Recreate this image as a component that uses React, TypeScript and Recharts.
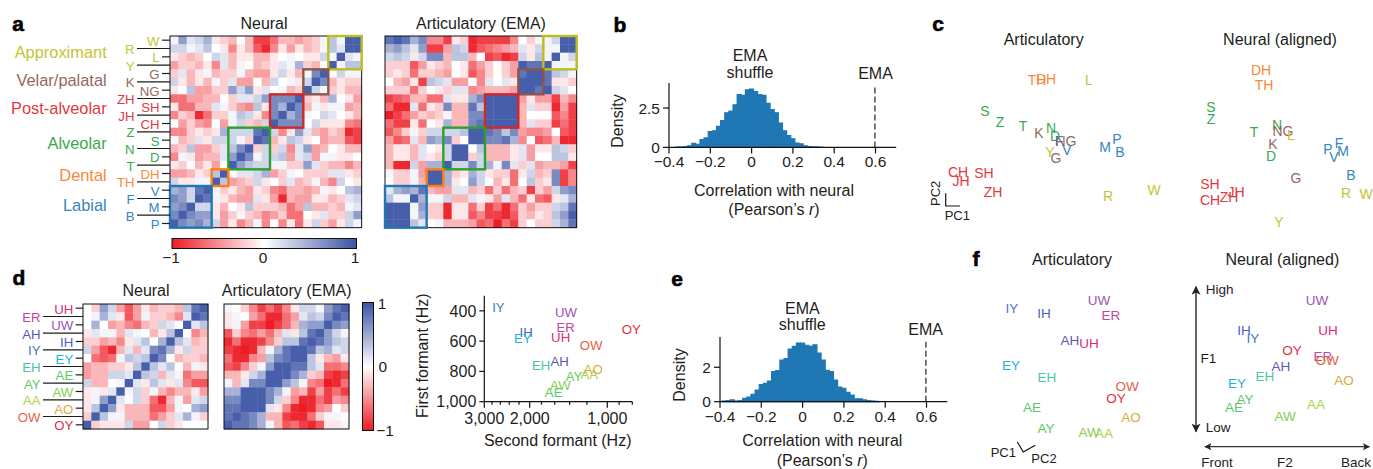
import React from 'react';
import {
  Bar,
  ComposedChart,
  ReferenceLine,
  Scatter,
  ScatterChart,
  XAxis,
  YAxis,
} from 'recharts';

const FONT = '"Liberation Sans", Arial, sans-serif';
const INK = '#1d1d1b';
const BLUE = '#1f77b4';
const CELL = 125 / 15;

// phonemes, top row of the matrix first
const consonants = ['W', 'R', 'L', 'Y', 'G', 'K', 'NG', 'ZH', 'SH', 'JH', 'CH', 'Z', 'S', 'N', 'D', 'T', 'DH', 'TH', 'V', 'F', 'M', 'B', 'P'];
const vowels = ['UH', 'ER', 'UW', 'AH', 'IH', 'IY', 'EY', 'EH', 'AE', 'AY', 'AW', 'AA', 'AO', 'OW', 'OY'];

const groupNames = ['Approximant', 'Velar/palatal', 'Post-alveolar', 'Alveolar', 'Dental', 'Labial'];
const groupSizes = [4, 3, 4, 5, 2, 5];
const groupBoxColors = ['#bcbd22', '#8c564b', '#d62728', '#2ca02c', '#ff7f0e', '#1f77b4'];
const groupTextColors = ['#c4c436', '#96675c', '#e0393e', '#3aa84f', '#f8893a', '#3585c0'];

const vowelColors = ['#da2a78', '#c445a0', '#9a55b5', '#5e55b5', '#4a62bf', '#4a78c4', '#22b2d8', '#48c6a2', '#5cc76e', '#62c95e', '#84ce52', '#acd245', '#d9aa3c', '#e2633f', '#e12d40'];

// correlation x 10, rows from the top, left edge up to the anti-diagonal (the matrices are symmetric)
const neuralConsonants = [
  [1, 6, 2, 3, 5, -1, -2, -3, 0, -3, -8, -8, -6, -3, -3, -4, -3, -2, 1, 4, 1, 9, 9],
  [3, 3, 1, 2, 4, 0, -1, -5, -1, -3, -7, -9, -5, -1, -4, -1, -3, -2, 1, 4, 2, 9],
  [-1, -2, -3, -2, 0, 3, 2, -3, -1, -1, -3, -3, -1, 0, 1, 0, -1, -1, 3, 1, 9],
  [-4, -2, -2, -3, -1, -5, 2, -3, 1, 0, -3, -2, -1, 2, 1, 5, -2, -3, 0, 9],
  [-2, 2, -3, -1, 1, -3, -2, -2, 1, -3, -4, -4, -1, 3, -1, -3, 1, 7, 9],
  [3, -1, -3, -1, -3, 1, -2, 2, -4, -4, 0, -3, 3, 0, 1, -1, 3, 9],
  [-1, 0, 4, -4, -4, -2, -2, 6, 3, 6, -1, 2, 0, 1, -3, -2, 9],
  [-6, -6, -4, -4, -3, -3, 0, -2, 2, 2, 3, 6, 7, 7, 7, 9],
  [-1, -6, -6, -3, -3, 2, 1, -2, -4, -5, 4, -1, 7, 5, 9],
  [-5, -2, -3, -9, -6, -2, -2, 1, 4, 3, -1, -5, 7, 9],
  [0, -4, -2, -4, -5, 0, -4, 1, 3, -2, -3, 3, 9],
  [-5, -5, -2, -1, -2, -1, 5, 3, 3, 3, 8, 9],
  [1, -3, -2, 2, -1, 3, 3, 3, 1, -2, 9],
  [-3, -2, 4, -4, -4, -2, 2, 4, 7, 9],
  [-5, 1, -1, -4, -3, -3, 2, 6, 9],
  [-1, -2, 0, -3, -1, -4, 0, 9],
  [-4, -4, -3, -1, -2, 4, 9],
  [3, -1, -1, 1, 1, 9],
  [5, 6, 3, 8, 9],
  [7, 6, 3, 9],
  [6, 7, 9],
  [7, 9],
  [9],
];

const emaConsonants = [
  [8, 9, 8, 5, 7, -5, -5, -8, -1, -2, -9, -8, -8, -8, -8, -5, 0, -2, 1, 1, 3, 9, 9],
  [5, 6, 4, 2, 6, -8, -8, -4, 4, 3, -9, -7, -6, -5, -4, -3, 2, -1, 3, 1, 1, 9],
  [3, 4, 3, -1, 3, 7, 7, -3, 4, 4, -3, 0, -8, -7, -9, -8, 3, -1, 4, 1, 9],
  [-2, -2, -2, -7, -4, -1, -2, -3, 0, -1, -6, -4, -2, 0, -2, -4, 9, 8, 8, 9],
  [-2, -1, -2, -6, -2, -2, -3, -4, 0, -1, -7, -5, -2, 0, -2, -4, 8, 9, 9],
  [0, -3, -4, -1, -8, 4, 3, 2, -4, -4, 0, -5, 2, 0, 2, -1, 9, 9],
  [-2, -2, -2, -6, -2, 0, -1, -2, 2, 2, -5, -4, -3, -3, -3, -4, 9],
  [-8, -7, -6, -3, -3, -6, -6, 2, -1, -1, 5, 7, 9, 9, 9, 9],
  [-6, -9, -9, 2, -6, -1, -2, 7, -3, -3, 8, 4, 9, 9, 9],
  [-10, -8, -6, -4, -2, -3, -2, 1, -3, -3, 7, 7, 9, 9],
  [-6, -8, -8, -1, -6, 0, -1, 5, -3, -3, 7, 8, 9],
  [-7, -5, -2, 1, -2, 3, 3, 3, 3, 4, 9, 9],
  [-4, -7, -6, 2, -3, 6, 5, 7, -2, 0, 9],
  [-3, -1, -1, -3, 2, 0, -1, 3, 9, 9],
  [-3, -1, -1, -3, 2, -1, -2, 3, 9],
  [-3, -9, -9, 3, -4, 5, 5, 9],
  [1, -2, -2, 1, -4, 9, 9],
  [0, -2, -2, 1, -3, 9],
  [2, 5, 6, 5, 8],
  [4, 1, 1, 9],
  [9, 9, 9],
  [9, 9],
  [9],
];

const neuralVowels = [
  [0, -2, 6, 3, -4, -7, -4, -1, -3, -2, -2, -3, 4, 8, 9],
  [0, 1, 5, 2, -1, -7, -4, 1, -2, -2, -3, -5, 2, 9],
  [0, 5, 0, -4, -3, -5, -6, -3, -2, 3, 2, 0, 9],
  [-1, 2, 1, 1, -3, 2, 1, 0, -3, -1, 4, 9],
  [-2, -2, -4, -3, -5, -1, 2, 4, 0, 5, 9],
  [3, -4, -7, -9, -3, 2, -3, 2, 7, 8],
  [0, -6, -7, -6, 1, 4, 3, 4, 9],
  [-4, -3, -3, -2, -2, -1, 4, 9],
  [-4, -3, -3, 3, 3, 2, 9],
  [3, -3, -3, 0, 1, 9],
  [-1, 1, -1, 2, 9],
  [-1, 1, 6, 9],
  [-1, 4, 9],
  [-2, 9],
  [9],
];

const emaVowels = [
  [1, 0, -2, -5, -8, -6, -8, -5, -1, 3, 3, 1, 6, 8, 9],
  [-1, 1, 0, -4, -6, -9, -9, -6, -4, 2, 4, 3, 7, 9],
  [-1, 1, -4, -8, -8, -10, -8, -6, -3, 5, 6, 6, 9],
  [-7, -2, -5, -6, -4, -6, -3, 2, -1, 4, 8, 9],
  [-9, -6, -9, -9, -8, -5, -2, 4, 4, 8, 9],
  [-8, -9, -10, -9, -3, 1, 5, 8, 9, 9],
  [-6, -9, -9, -5, -4, 4, 7, 8, 9],
  [-7, -8, -5, -2, 1, 6, 9, 9],
  [-3, -3, -1, 3, 5, 9, 9],
  [1, -3, 2, 7, 7, 9],
  [5, 5, 9, 9, 9],
  [7, 7, 9, 9],
  [8, 8, 9],
  [8, 9],
  [9],
];

// histograms: densities per 0.02 wide bin
const shuffleBinsB = [-0.36, -0.34, -0.32, -0.3, -0.28, -0.26, -0.24, -0.22, -0.2, -0.18, -0.16, -0.14, -0.12, -0.1, -0.08, -0.06, -0.04, -0.02, 0, 0.02, 0.04, 0.06, 0.08, 0.1, 0.12, 0.14, 0.16, 0.18, 0.2, 0.22, 0.24, 0.26, 0.28, 0.3, 0.32, 0.34];
const shuffleDensityB = [0.02, 0.03, 0.05, 0.1, 0.25, 0.2, 0.5, 0.6, 1.0, 1.05, 1.33, 1.7, 2.2, 2.3, 2.7, 3.35, 3.3, 3.65, 3.7, 3.55, 3.35, 3.3, 2.8, 2.4, 2.2, 1.55, 1.05, 0.75, 0.55, 0.28, 0.23, 0.1, 0.05, 0.03, 0.03, 0.01];
const shuffleBinsE = [-0.38, -0.36, -0.34, -0.32, -0.3, -0.28, -0.26, -0.24, -0.22, -0.2, -0.18, -0.16, -0.14, -0.12, -0.1, -0.08, -0.06, -0.04, -0.02, 0, 0.02, 0.04, 0.06, 0.08, 0.1, 0.12, 0.14, 0.16, 0.18, 0.2, 0.22, 0.24, 0.26, 0.28, 0.3, 0.32, 0.34, 0.36];
const shuffleDensityE = [0.04, 0.06, 0.1, 0.04, 0.06, 0.2, 0.27, 0.43, 0.68, 1.0, 1.07, 1.2, 1.75, 1.8, 2.42, 2.5, 3.06, 3.22, 3.41, 3.4, 3.27, 3.22, 3.3, 2.83, 2.42, 1.82, 1.75, 1.26, 0.85, 0.78, 0.54, 0.39, 0.16, 0.16, 0.1, 0.06, 0.04, 0.02];
const corrTicks = [-0.4, -0.2, 0, 0.2, 0.4, 0.6];
const emaCorrelation = 0.597;

// formants in Hz
const f2Hz = [1517, 1450, 1446, 1531, 2066, 2645, 2129, 1807, 1615, 1346, 1521, 1174, 1133, 1156, 807];
const f1Hz = [576, 512, 411, 734, 545, 374, 585, 760, 936, 835, 892, 822, 787, 629, 521];
const f2Ticks = [3000, 2800, 2600, 2400, 2200, 2000, 1800, 1600, 1400, 1200, 1000, 900, 800];
const f2Labeled = [3000, 2000, 1000];
const f1Ticks = [400, 600, 800, 1000];

// panel c, PC1/PC2 in arbitrary units, y grows downward as drawn
const cArtLabels = ['TH', 'DH', 'L', 'S', 'Z', 'T', 'K', 'N', 'D', 'F', 'NG', 'Y', 'G', 'V', 'M', 'P', 'B', 'CH', 'SH', 'JH', 'ZH', 'R', 'W'];
const cArtPc1 = [107, 116, 159, 55, 70, 93, 109, 121, 125, 129, 136, 120, 126, 137, 175, 187, 190, 28, 54, 31, 63, 178, 224];
const cArtPc2 = [20, 19, 20, 51, 62, 66, 73, 68, 76, 81, 81, 92, 98, 90, 87, 79, 92, 112, 113, 121, 132, 136, 130];
const cNeuLabels = ['DH', 'TH', 'S', 'Z', 'N', 'T', 'NG', 'L', 'K', 'D', 'G', 'F', 'P', 'M', 'V', 'B', 'R', 'W', 'SH', 'JH', 'ZH', 'CH', 'Y'];
const cNeuPc1 = [71, 74, 21, 21, 87, 64, 93, 101, 83, 81, 106, 149, 138, 153, 144, 161, 156, 176, 20, 46, 39, 20, 89];
const cNeuPc2 = [10, 25, 47, 59, 65, 72, 71, 75, 84, 96, 118, 83, 89, 91, 97, 115, 133, 134, 124, 132, 137, 140, 162];

// panel f
const fArtLabels = ['IY', 'IH', 'UW', 'ER', 'AH', 'UH', 'EY', 'EH', 'OW', 'OY', 'AE', 'AO', 'AY', 'AW', 'AA'];
const fArtPc1 = [22, 54, 109, 121, 80, 99, 21, 57, 137, 126, 42, 141, 56, 99, 114];
const fArtPc2 = [18, 23, 10, 25, 50, 53, 75, 87, 96, 108, 117, 127, 138, 142, 143];
const fNeuLabels = ['UW', 'IH', 'IY', 'UH', 'OY', 'ER', 'OW', 'AH', 'EH', 'EY', 'AO', 'AY', 'AE', 'AA', 'AW'];
const fNeuF2 = [107, 34, 43, 118, 82, 113, 117, 71, 55, 27, 134, 35, 24, 106, 75];
const fNeuF1 = [10, 40, 48, 40, 60, 66, 70, 76, 86, 93, 90, 109, 117, 114, 126];

const consonantColor = (label: string) => {
  let i = consonants.indexOf(label);
  for (let g = 0; g < groupSizes.length; g++) {
    if (i < groupSizes[g]) return groupTextColors[g];
    i -= groupSizes[g];
  }
  return INK;
};
const vowelColor = (label: string) => vowelColors[vowels.indexOf(label)];

const cellColor = (v: number) => {
  const linear = Math.min(1, Math.abs(v) / 9.5);
  // pale blues read lighter than pale reds in the original
  const t = v > 0 ? Math.pow(linear, 1.25) : linear;
  const end = v < 0 ? [237, 28, 36] : [58, 83, 164];
  const [r, g, b] = end.map((c) => Math.round(255 + (c - 255) * t));
  return `rgb(${r},${g},${b})`;
};

const expand = (tri: number[][]) => {
  const n = tri.length;
  const cells: { x: number; y: number; v: number }[] = [];
  for (let r = 0; r < n; r++) {
    for (let c = 0; c < n; c++) {
      const v = c <= n - 1 - r ? tri[r][c] : tri[n - 1 - c][n - 1 - r];
      cells.push({ x: c + 0.5, y: r + 0.5, v });
    }
  }
  return cells;
};

const Cell = (props: any) => (
  <rect
    x={props.cx - CELL / 2}
    y={props.cy - CELL / 2}
    width={CELL + 0.4}
    height={CELL + 0.4}
    fill={cellColor(props.payload.v)}
  />
);

// outline centred on its point, span is in cells
const Outline = (props: any) => {
  const w = props.payload.span * CELL;
  return (
    <rect
      x={props.cx - w / 2}
      y={props.cy - w / 2}
      width={w}
      height={w}
      fill="none"
      stroke={props.payload.color}
      strokeWidth={props.payload.thick}
    />
  );
};

const outlines = (n: number, boxes?: boolean) => {
  const list = [{ x: n / 2, y: n / 2, span: n, color: '#111', thick: 1 }];
  if (!boxes) return list;
  let from = 0;
  groupSizes.forEach((s, g) => {
    list.push({ x: n - from - s / 2, y: from + s / 2, span: s, color: groupBoxColors[g], thick: 2.4 });
    from += s;
  });
  return list;
};

type HeatProps = {
  left: number;
  top: number;
  tri: number[][];
  labels?: string[];
  colorOf?: (l: string) => string;
  shortTick?: number;
  longTick?: number;
  boxes?: boolean;
};

// frame at left/top, room for the stacked labels to the left of it
const Heatmap = ({ left, top, tri, labels, colorOf, shortTick = 8, longTick = 33, boxes }: HeatProps) => {
  const n = tri.length;
  const size = n * CELL;
  const pad = 4;
  const axisW = labels ? 70 : 0;
  const RowTick = (p: any) => {
    const i = Math.floor(p.payload.value);
    const len = i % 2 ? longTick : shortTick;
    return (
      <g>
        <line x1={p.x - len} x2={p.x} y1={p.y} y2={p.y} stroke={INK} strokeWidth={1.2} />
        <text
          x={p.x - len - 2.5}
          y={p.y + 1}
          dy=".35em"
          textAnchor="end"
          fontFamily={FONT}
          fontSize={13.2}
          fill={colorOf ? colorOf(labels![i]) : INK}
        >
          {labels![i]}
        </text>
      </g>
    );
  };
  return (
    <div style={{ position: 'absolute', left: left - axisW - pad, top: top - pad }}>
      <ScatterChart
        width={size + axisW + 2 * pad}
        height={size + 2 * pad}
        margin={{ top: pad, right: pad, bottom: pad, left: pad }}
      >
        <XAxis type="number" dataKey="x" domain={[0, n]} hide />
        {labels ? (
          <YAxis
            type="number"
            dataKey="y"
            domain={[0, n]}
            reversed
            width={axisW}
            ticks={labels.map((_, i) => i + 0.5)}
            interval={0}
            axisLine={false}
            tickLine={false}
            tickSize={0}
            tickMargin={0}
            tick={RowTick}
          />
        ) : (
          <YAxis type="number" dataKey="y" domain={[0, n]} reversed hide />
        )}
        <Scatter data={expand(tri)} shape={Cell} isAnimationActive={false} />
        <Scatter data={outlines(n, boxes)} shape={Outline} isAnimationActive={false} />
      </ScatterChart>
    </div>
  );
};

const minusFmt = (v: number) => (v === 0 ? '0' : String(v).replace('-', '\u2212'));

const axisText = { fontFamily: FONT, fontSize: 15.5, fill: INK };

type HistProps = {
  left: number;
  top: number;
  width: number;
  height: number;
  bins: number[];
  density: number[];
  yMax: number;
  yTicks: number[];
  lineTop: number;
};

const Histogram = ({ left, top, width, height, bins, density, yMax, yTicks, lineTop }: HistProps) => (
  <div style={{ position: 'absolute', left: left - 69, top: top - 12 }}>
    <ComposedChart
      width={69 + width + 6}
      height={12 + height + 34}
      data={bins.map((x, i) => ({ x, d: density[i] }))}
      margin={{ top: 12, right: 6, bottom: 0, left: 0 }}
      barCategoryGap={0}
    >
      <XAxis
        type="number"
        dataKey="x"
        domain={[-0.4, 0.7]}
        ticks={corrTicks}
        interval={0}
        height={34}
        tickFormatter={minusFmt}
        tick={axisText}
        tickSize={6}
        tickMargin={3}
        stroke="#111"
        strokeWidth={1.2}
      />
      <YAxis
        type="number"
        domain={[0, yMax]}
        ticks={yTicks}
        interval={0}
        width={69}
        tickFormatter={(v: number) => String(v)}
        tick={axisText}
        tickSize={6}
        tickMargin={3}
        stroke="#111"
        strokeWidth={1.2}
      />
      <Bar dataKey="d" fill={BLUE} stroke={BLUE} strokeWidth={1.2} barSize={4} isAnimationActive={false} />
      <ReferenceLine
        segment={[
          { x: emaCorrelation, y: 0 },
          { x: emaCorrelation, y: lineTop },
        ]}
        stroke="#222"
        strokeWidth={1.2}
        strokeDasharray="6 3"
      />
    </ComposedChart>
  </div>
);

const labelMark = (size: number) => (props: any) => (
  <text
    x={props.cx}
    y={props.cy}
    dy=".35em"
    textAnchor="middle"
    fontFamily={FONT}
    fontSize={size}
    fill={props.payload.color}
  >
    {props.payload.label}
  </text>
);

type CloudProps = {
  left: number;
  top: number;
  width: number;
  height: number;
  labels: string[];
  xs: number[];
  ys: number[];
  colorOf: (l: string) => string;
  size?: number;
};

// chart area equals the domain size, so one unit is one pixel
const LabelCloud = ({ left, top, width, height, labels, xs, ys, colorOf, size = 14 }: CloudProps) => (
  <div style={{ position: 'absolute', left, top }}>
    <ScatterChart width={width} height={height} margin={{ top: 0, right: 0, bottom: 0, left: 0 }} style={{ overflow: 'visible' }}>
      <XAxis type="number" dataKey="x" domain={[0, width]} hide />
      <YAxis type="number" dataKey="y" domain={[0, height]} reversed hide />
      <Scatter
        data={labels.map((label, i) => ({ x: xs[i], y: ys[i], label, color: colorOf(label) }))}
        shape={labelMark(size)}
        isAnimationActive={false}
      />
    </ScatterChart>
  </div>
);

const formantText = { fontFamily: FONT, fontSize: 16, fill: INK };

const FormantTick = (p: any) => {
  const v = p.payload.value;
  const major = f2Labeled.includes(v);
  return (
    <g>
      <line x1={p.x} x2={p.x} y1={p.y} y2={p.y + (major ? 6 : 3)} stroke="#111" strokeWidth={1.2} />
      {major && (
        <text x={p.x} y={p.y + 17} dy=".35em" textAnchor="middle" {...formantText}>
          {v.toLocaleString('en-US')}
        </text>
      )}
    </g>
  );
};

const FormantChart = () => (
  <div style={{ position: 'absolute', left: 410, top: 285 }}>
    <ScatterChart width={232} height={150} margin={{ top: 10.7, right: 9.7, bottom: 0, left: 0 }}>
      <XAxis
        type="number"
        dataKey="x"
        scale="log"
        domain={[800, 3000]}
        reversed
        ticks={f2Ticks}
        interval={0}
        height={33.3}
        tickSize={0}
        tickMargin={0}
        tickLine={false}
        tick={FormantTick}
        stroke="#111"
        strokeWidth={1.2}
      />
      <YAxis
        type="number"
        dataKey="y"
        domain={[300, 1000]}
        reversed
        ticks={f1Ticks}
        interval={0}
        width={74.3}
        tickFormatter={(v: number) => v.toLocaleString('en-US')}
        tick={formantText}
        tickSize={5}
        tickMargin={3}
        stroke="#111"
        strokeWidth={1.2}
      />
      <Scatter
        data={vowels.map((label, i) => ({ x: f2Hz[i], y: f1Hz[i], label, color: vowelColor(label) }))}
        shape={labelMark(13.2)}
        isAnimationActive={false}
      />
    </ScatterChart>
  </div>
);

const T = ({ x, y, size = 16, anchor = 'middle', weight, rotate, fill = INK, outline, children }: any) => (
  <text
    x={x}
    y={y}
    dy=".35em"
    textAnchor={anchor}
    fontFamily={FONT}
    fontSize={size}
    fontWeight={weight}
    fill={fill}
    stroke={outline}
    strokeWidth={outline ? 0.6 : undefined}
    transform={rotate ? `rotate(${rotate} ${x} ${y})` : undefined}
  >
    {children}
  </text>
);

const PanelLetter = ({ x, y, children }: any) => (
  <T x={x} y={y} size={21} weight={700} fill="#000" outline="#000">{children}</T>
);

const Overlay = () => (
  <svg width={1373} height={469} style={{ position: 'absolute', left: 0, top: 0, pointerEvents: 'none' }}>
    <defs>
      <linearGradient id="cbarH" x1="0" x2="1" y1="0" y2="0">
        <stop offset="0" stopColor="#ed1c24" />
        <stop offset="0.5" stopColor="#ffffff" />
        <stop offset="1" stopColor="#3a53a4" />
      </linearGradient>
      <linearGradient id="cbarV" x1="0" x2="0" y1="1" y2="0">
        <stop offset="0" stopColor="#ed1c24" />
        <stop offset="0.5" stopColor="#ffffff" />
        <stop offset="1" stopColor="#3a53a4" />
      </linearGradient>
      <marker id="arrow" viewBox="0 0 10 10" refX="9" refY="5" markerWidth="6" markerHeight="6" orient="auto-start-reverse">
        <path d="M0 0 L10 5 L0 10 L2.5 5 Z" fill="#222" />
      </marker>
    </defs>

    <PanelLetter x={18} y={24}>a</PanelLetter>
    <PanelLetter x={620} y={25}>b</PanelLetter>
    <PanelLetter x={938} y={24}>c</PanelLetter>
    <PanelLetter x={19} y={278}>d</PanelLetter>
    <PanelLetter x={677} y={279}>e</PanelLetter>
    <PanelLetter x={976} y={259}>f</PanelLetter>

    {/* a */}
    <T x={264} y={23}>Neural</T>
    <T x={481} y={23}>Articulatory (EMA)</T>
    {groupNames.map((g, i) => (
      <T key={g} x={106.7} y={[52.7, 80, 108.7, 143.7, 175.7, 205.7][i]} size={16.4} anchor="end" fill={groupTextColors[i]}>
        {g}
      </T>
    ))}
    <rect x={172} y={238.5} width={184.5} height={10} fill="url(#cbarH)" stroke="#111" strokeWidth={1} />
    <T x={171} y={258} size={15.5}>{'\u22121'}</T>
    <T x={263} y={258} size={15.5}>0</T>
    <T x={355} y={258} size={15.5}>1</T>

    {/* b */}
    <T x={750} y={55}>EMA</T>
    <T x={750} y={72}>shuffle</T>
    <T x={875.5} y={73}>EMA</T>
    <T x={774} y={190}>Correlation with neural</T>
    <T x={774} y={209}>
      (Pearson’s <tspan fontStyle="italic">r</tspan>)
    </T>
    <T x={617.5} y={121} rotate={-90}>Density</T>

    {/* c */}
    <T x={1043.7} y={39}>Articulatory</T>
    <T x={1280} y={39}>Neural (aligned)</T>
    <path d="M945.7 193.3 V206 H960" fill="none" stroke="#111" strokeWidth={1.2} />
    <T x={957.3} y={215.7} size={13}>PC1</T>
    <T x={935.7} y={193.3} size={13} rotate={-90}>PC2</T>

    {/* d */}
    <T x={146} y={290.7}>Neural</T>
    <T x={286.7} y={290.7}>Articulatory (EMA)</T>
    <rect x={362.5} y={302.5} width={11} height={128} fill="url(#cbarV)" stroke="#111" strokeWidth={1} />
    <T x={382} y={304} size={15.5}>1</T>
    <T x={382.7} y={366.7} size={15.5}>0</T>
    <T x={385} y={430.7} size={15.5}>{'\u22121'}</T>
    <T x={422.7} y={355.7} rotate={-90}>First formant (Hz)</T>
    <T x={557.7} y={440.7}>Second formant (Hz)</T>

    {/* e */}
    <T x={802.3} y={308.3}>EMA</T>
    <T x={802.3} y={324.3}>shuffle</T>
    <T x={925.7} y={329.3}>EMA</T>
    <T x={822.3} y={440.7}>Correlation with neural</T>
    <T x={822.3} y={460.7}>
      (Pearson’s <tspan fontStyle="italic">r</tspan>)
    </T>
    <T x={679.3} y={375} rotate={-90}>Density</T>

    {/* f */}
    <T x={1072} y={259}>Articulatory</T>
    <T x={1282.3} y={259}>Neural (aligned)</T>
    <path d="M1017.3 442 L1023.3 452 L1035.3 445.3" fill="none" stroke="#111" strokeWidth={1.2} />
    <T x={1003.3} y={452.3} size={13}>PC1</T>
    <T x={1044} y={458.3} size={13}>PC2</T>
    <line x1={1196} x2={1196} y1={286.7} y2={431.7} stroke="#333" strokeWidth={1.5} markerStart="url(#arrow)" markerEnd="url(#arrow)" />
    <line x1={1205} x2={1369.3} y1={446.7} y2={446.7} stroke="#333" strokeWidth={1.2} markerStart="url(#arrow)" markerEnd="url(#arrow)" />
    <T x={1205.7} y={289.3} size={13.5} anchor="start">High</T>
    <T x={1205.7} y={427.7} size={13.5} anchor="start">Low</T>
    <T x={1208.3} y={358.3} size={13.5}>F1</T>
    <T x={1217} y={462.7} size={13.5}>Front</T>
    <T x={1285} y={462.7} size={13.5}>F2</T>
    <T x={1356} y={462.7} size={13.5}>Back</T>
  </svg>
);

export default function App() {
  return (
    <div style={{ position: 'absolute', left: 0, top: 0, width: 1373, height: 469, background: '#fff', overflow: 'hidden' }}>
      <Heatmap left={170} top={36} tri={neuralConsonants} labels={consonants} colorOf={consonantColor} boxes />
      <Heatmap left={385} top={36} tri={emaConsonants} boxes />
      <Heatmap left={83.3} top={304} tri={neuralVowels} labels={vowels} colorOf={vowelColor} shortTick={7.3} longTick={40} />
      <Heatmap left={223.5} top={304} tri={emaVowels} />
      <Histogram left={668.7} top={83.3} width={227.2} height={64.4} bins={shuffleBinsB} density={shuffleDensityB} yMax={4.09} yTicks={[0, 2.5]} lineTop={3.87} />
      <Histogram left={720} top={337} width={227.2} height={64.7} bins={shuffleBinsE} density={shuffleDensityE} yMax={3.76} yTicks={[0, 2]} lineTop={3.53} />
      <FormantChart />
      <LabelCloud left={930} top={60} width={240} height={175} labels={cArtLabels} xs={cArtPc1} ys={cArtPc2} colorOf={consonantColor} />
      <LabelCloud left={1190} top={60} width={183} height={175} labels={cNeuLabels} xs={cNeuPc1} ys={cNeuPc2} colorOf={consonantColor} />
      <LabelCloud left={990} top={290} width={170} height={155} labels={fArtLabels} xs={fArtPc1} ys={fArtPc2} colorOf={vowelColor} size={13.5} />
      <LabelCloud left={1210} top={290} width={163} height={135} labels={fNeuLabels} xs={fNeuF2} ys={fNeuF1} colorOf={vowelColor} size={13.5} />
      <Overlay />
    </div>
  );
}
